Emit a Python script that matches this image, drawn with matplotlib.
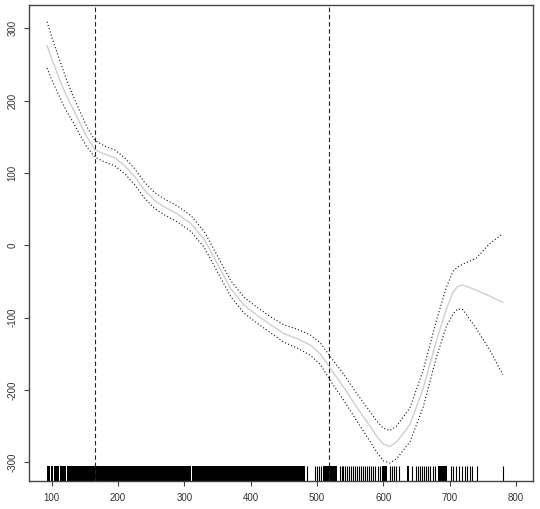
import numpy as np
import matplotlib
matplotlib.use("Agg")
import matplotlib.pyplot as plt
import matplotlib.transforms as mtransforms

# -------------------------------------------------------
# data (smooth term + 95% band)
# -------------------------------------------------------
x_grid = [93, 100, 112, 122, 133, 143, 153, 165, 180, 195, 210, 225, 240, 255,
          270, 290, 310, 330, 350, 370, 390, 410, 430, 450, 470, 490, 505, 520,
          540, 560, 580, 590, 600, 610, 620, 640, 660, 680, 695, 705, 712, 720,
          740, 760, 780]

fit = [276, 258, 229, 207, 187, 168, 150, 132, 126, 121, 110, 95, 76, 62,
       53, 43, 30, 8, -26, -60, -83, -97, -110, -122, -129, -138, -150, -170,
       -196, -224, -250, -264, -275, -278, -272, -248, -198, -132, -88, -65, -57, -55,
       -62, -70, -79]

upper = [309, 288, 256, 230, 205, 184, 164, 145, 137, 132, 121, 106, 87, 73,
         64, 54, 41, 19, -15, -49, -72, -86, -99, -110, -116, -124, -135, -154,
         -178, -205, -230, -243, -253, -256, -250, -225, -173, -104, -58, -36, -30, -26,
         -18, 2, 16]

lower = [245, 229, 205, 186, 169, 152, 136, 122, 115, 110, 99, 84, 65, 51,
         42, 32, 19, -3, -37, -71, -94, -108, -121, -134, -142, -152, -165, -187,
         -214, -243, -271, -286, -298, -301, -295, -272, -224, -155, -112, -95, -88, -89,
         -115, -144, -179]

# cut points (dashed vertical lines)
cut_points = [165, 518]

# rug: stretches that are solid black, then single observations
rug_spans = [(93, 97.5), (98.3, 102), (102.8, 111), (111.8, 117), (117.8, 122),
             (122.8, 166.3), (167.3, 310.5), (311.5, 403), (404, 482.5),
             (509.5, 529.7), (598, 605), (635, 639), (683, 695.5)]
rug_ticks = [484.4, 497.5, 499.5, 503, 506.5, 534.7, 537.2, 539.7, 542.2, 545.7,
             548.7, 551.3, 554.8, 557.8, 560.8, 563.8, 566.8, 569.8, 572.9, 575.9,
             578.9, 581.9, 584.9, 587.9, 592.5, 595, 610, 613, 616, 619, 623,
             642.7, 649.2, 652.3, 655.3, 658.3, 661.3, 664.3, 667.3, 670.4, 674.4,
             678.4, 701.5, 705.5, 709.5, 714.6, 718, 723.1, 726.6, 730.6, 733.2,
             740.7, 779.9]

x_ticks = [100, 200, 300, 400, 500, 600, 700, 800]
y_ticks = [-300, -200, -100, 0, 100, 200, 300]

# -------------------------------------------------------
# plot
# -------------------------------------------------------
plt.rcParams["font.family"] = ["Liberation Sans", "DejaVu Sans"]
plt.rcParams["axes.unicode_minus"] = False

fig = plt.figure(figsize=(5.4, 5.09), dpi=100)
ax = fig.add_axes([29 / 540, 1 - 481 / 509, (533 - 29) / 540, (481 - 5) / 509])

ax.plot(x_grid, fit, color="#cfcfcf", lw=1.0)
ax.plot(x_grid, upper, color="#111111", lw=0.8, linestyle=(0, (1, 2)))
ax.plot(x_grid, lower, color="#111111", lw=0.8, linestyle=(0, (1, 2)))

for c in cut_points:
    ax.axvline(c, color="#222222", lw=0.8, linestyle=(0, (4, 2.5)))

# rug along the bottom (3% of plot height, like R)
trans = mtransforms.blended_transform_factory(ax.transData, ax.transAxes)
for a, b in rug_spans:
    ax.fill_between([a, b], 0, 0.031, color="black", lw=0, transform=trans)
ax.vlines(rug_ticks, 0, 0.031, color="black", lw=0.8, transform=trans)

ax.set_xlim(65.8, 825.6)
ax.set_ylim(-325.9, 332.2)
ax.set_xticks(x_ticks)
ax.set_yticks(y_ticks)

for s in ax.spines.values():
    s.set_color("#444444")
    s.set_linewidth(1.0)

ax.tick_params(axis="both", length=3.8, width=0.8, color="#444444",
               labelsize=7, labelcolor="#333333")
ax.tick_params(axis="x", pad=4.5)
ax.tick_params(axis="y", pad=4.5)
for lab in ax.get_yticklabels():
    lab.set_rotation(90)
    lab.set_va("center")

fig.savefig("out.png", dpi=100)
